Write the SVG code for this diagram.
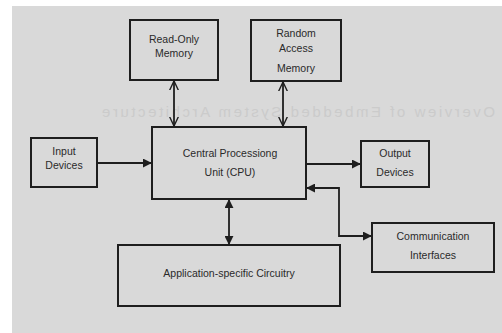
<svg xmlns="http://www.w3.org/2000/svg" width="502" height="333" viewBox="0 0 502 333">
  <style>
    .box { fill: none; stroke: #1e1e1e; stroke-width: 2; }
    .lbl { font-family: "Liberation Sans", Arial, sans-serif; font-size: 10.5px; fill: #2a2a2a; text-anchor: middle; }
    .wire { fill: none; stroke: #1e1e1e; stroke-width: 1.8; }
    .ghost { font-family: "Liberation Sans", Arial, sans-serif; font-size: 15px; fill: #cbcbcb; }
  </style>
  <defs>
    <marker id="tri" viewBox="0 0 10 10" refX="9" refY="5" markerWidth="5" markerHeight="5" orient="auto-start-reverse" markerUnits="strokeWidth">
      <path d="M0,0 L10,5 L0,10 Z" fill="#1e1e1e"/>
    </marker>
    <marker id="vee" viewBox="0 0 10 10" refX="9.5" refY="5" markerWidth="5.5" markerHeight="5.5" orient="auto-start-reverse" markerUnits="strokeWidth">
      <path d="M0,0.5 L9.5,5 L0,9.5" fill="none" stroke="#1e1e1e" stroke-width="1.4"/>
    </marker>
  </defs>

  <!-- page -->
  <rect x="0" y="0" width="502" height="333" fill="#ffffff"/>
  <rect x="12" y="6" width="490" height="327" fill="#d9d9d9"/>
  <!-- show-through heading from the reverse side of the page -->
  <text class="ghost" transform="translate(597,0) scale(-1,1)" x="102" y="117" textLength="393" lengthAdjust="spacing">Overview of Embedded System Architecture</text>

  <g id="connectors">
    <line class="wire" x1="174" y1="81" x2="174" y2="126" marker-start="url(#vee)" marker-end="url(#vee)"/>
    <line class="wire" x1="283" y1="82" x2="283" y2="126" marker-start="url(#vee)" marker-end="url(#vee)"/>
    <line class="wire" x1="97" y1="163" x2="151" y2="163" marker-end="url(#tri)"/>
    <line class="wire" x1="306" y1="164" x2="360" y2="164" marker-end="url(#tri)"/>
    <line class="wire" x1="229" y1="200" x2="229" y2="244" marker-start="url(#tri)" marker-end="url(#tri)"/>
    <polyline class="wire" points="307,188 339,188 339,236 371,236" marker-start="url(#tri)" marker-end="url(#tri)"/>
  </g>

  <g id="rom">
    <rect class="box" x="130" y="20" width="88" height="60"/>
    <text class="lbl" x="174" y="43">Read-Only</text>
    <text class="lbl" x="174" y="57">Memory</text>
  </g>
  <g id="ram">
    <rect class="box" x="251" y="20" width="90" height="61"/>
    <text class="lbl" x="296" y="37">Random</text>
    <text class="lbl" x="296" y="52">Access</text>
    <text class="lbl" x="296" y="72">Memory</text>
  </g>
  <g id="input">
    <rect class="box" x="31" y="138" width="66" height="49"/>
    <text class="lbl" x="64" y="155">Input</text>
    <text class="lbl" x="64" y="169">Devices</text>
  </g>
  <g id="cpu">
    <rect class="box" x="152" y="127" width="154" height="72"/>
    <text class="lbl" x="230" y="157">Central Processiong</text>
    <text class="lbl" x="230" y="176">Unit (CPU)</text>
  </g>
  <g id="output">
    <rect class="box" x="361" y="141" width="68" height="46"/>
    <text class="lbl" x="395" y="157">Output</text>
    <text class="lbl" x="395" y="176">Devices</text>
  </g>
  <g id="comm">
    <rect class="box" x="372" y="223" width="122" height="49"/>
    <text class="lbl" x="433" y="240">Communication</text>
    <text class="lbl" x="433" y="259">Interfaces</text>
  </g>
  <g id="asic">
    <rect class="box" x="118" y="245" width="222" height="61"/>
    <text class="lbl" x="229" y="277">Application-specific Circuitry</text>
  </g>
</svg>
